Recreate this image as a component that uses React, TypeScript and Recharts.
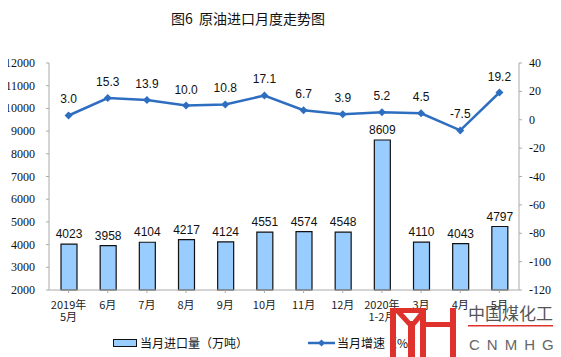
import { Bar, ComposedChart, LabelList, Line, XAxis, YAxis } from "recharts";

const months = ["2019年\n5月", "6月", "7月", "8月", "9月", "10月", "11月", "12月", "2020年\n1-2月", "3月", "4月", "5月"];
const imports = [4023, 3958, 4104, 4217, 4124, 4551, 4574, 4548, 8609, 4110, 4043, 4797];
const growth = [3.0, 15.3, 13.9, 10.0, 10.8, 17.1, 6.7, 3.9, 5.2, 4.5, -7.5, 19.2];
const leftTicks = [2000, 3000, 4000, 5000, 6000, 7000, 8000, 9000, 10000, 11000, 12000];
const rightTicks = [-120, -100, -80, -60, -40, -20, 0, 20, 40];

const data = months.map((m, i) => ({ month: m, imports: imports[i], growth: growth[i] }));

const LINE = "#2e6ec0";
const SERIF = "Liberation Serif, serif";
const SANS = "Liberation Sans, Arial, sans-serif";
const CJK = "Noto Sans CJK SC, sans-serif";

function MonthTick({ x, y, payload }: any) {
  const lines = String(payload.value).split("\n");
  return (
    <text x={x} y={y + 14} textAnchor="middle" fontSize={11} fontFamily={CJK} fill="#222">
      {lines.map((l, i) => (
        <tspan key={i} x={x} dy={i === 0 ? 0 : 12}>
          {l}
        </tspan>
      ))}
    </text>
  );
}

function NumTick({ x, y, payload, anchor }: any) {
  return (
    <text x={x} y={y + 4} textAnchor={anchor} fontSize={12} fontFamily={SERIF} fill="#111">
      {payload.value}
    </text>
  );
}

function Diamond({ cx, cy }: any) {
  if (cx == null || cy == null) return null;
  return <path d={`M${cx},${cy - 4}L${cx + 4},${cy}L${cx},${cy + 4}L${cx - 4},${cy}Z`} fill={LINE} />;
}

export default function App() {
  return (
    <div style={{ position: "relative", width: 561, height: 357, margin: "-8px 0 0 -8px", background: "#fff" }}>
      <div style={{ position: "absolute", left: 0, width: 496, top: 8, textAlign: "center", fontFamily: CJK, fontSize: 14, color: "#111" }}>
        图6&nbsp;&nbsp;原油进口月度走势图
      </div>
      <ComposedChart width={561} height={357} data={data} margin={{ top: 63, right: 4, bottom: 37, left: 4 }}>
        <XAxis
          dataKey="month"
          height={30}
          interval={0}
          tick={<MonthTick />}
          tickLine={{ stroke: "#aaa" }}
          tickSize={3}
          axisLine={{ stroke: "#aaa" }}
        />
        <YAxis
          yAxisId="left"
          width={45}
          domain={[2000, 12000]}
          ticks={leftTicks}
          interval={0}
          tickSize={3}
          tickMargin={11}
          axisLine={{ stroke: "#aaa" }}
          tickLine={{ stroke: "#aaa" }}
          tick={<NumTick anchor="end" />}
        />
        <YAxis
          yAxisId="right"
          orientation="right"
          width={38}
          domain={[-120, 40]}
          ticks={rightTicks}
          interval={0}
          tickSize={3}
          tickMargin={7}
          axisLine={{ stroke: "#aaa" }}
          tickLine={{ stroke: "#aaa" }}
          tick={<NumTick anchor="start" />}
        />
        <Bar yAxisId="left" dataKey="imports" barSize={16} fill="#99ccff" stroke="#111" strokeWidth={1.2} isAnimationActive={false}>
          <LabelList dataKey="imports" position="top" offset={6} style={{ fontSize: 12, fontFamily: SANS, fill: "#111" }} />
        </Bar>
        <Line
          yAxisId="right"
          dataKey="growth"
          stroke={LINE}
          strokeWidth={2.5}
          dot={<Diamond />}
          activeDot={false}
          isAnimationActive={false}
        >
          <LabelList
            dataKey="growth"
            position="top"
            offset={12}
            formatter={(v: any) => Number(v).toFixed(1)}
            style={{ fontSize: 12, fontFamily: SANS, fill: "#111" }}
          />
        </Line>
      </ComposedChart>
      <div style={{ position: "absolute", left: 113, top: 334, display: "flex", alignItems: "center", fontFamily: CJK, fontSize: 12, color: "#111", whiteSpace: "nowrap" }}>
        <span style={{ display: "inline-block", width: 22, height: 6, background: "#99ccff", border: "1.5px solid #111", marginRight: 3 }} />
        当月进口量（万吨）
      </div>
      <div style={{ position: "absolute", left: 308, top: 334, display: "flex", alignItems: "center", fontFamily: CJK, fontSize: 12, color: "#111", whiteSpace: "nowrap" }}>
        <svg width={27} height={10} style={{ marginRight: 2 }}>
          <line x1={0} y1={5} x2={27} y2={5} stroke={LINE} strokeWidth={2.5} />
          <path d="M13.5,1.5L17,5L13.5,8.5L10,5Z" fill={LINE} />
        </svg>
        当月增速（%）
      </div>
      <svg style={{ position: "absolute", left: 0, top: 0 }} width={561} height={357}>
        <g fill="#e0322c">
          <rect x={390} y={308} width={6} height={49} />
          <rect x={390} y={308} width={36} height={5} />
          <polygon points="396,313 403,313 412,323 409,327" />
          <polygon points="426,313 419,313 411,323 414,327" />
          <rect x={408} y={321} width={7} height={36} />
          <rect x={420} y={308} width={6} height={49} />
          <rect x={426} y={322} width={24} height={5} />
          <rect x={450} y={308} width={6} height={49} />
          <rect x={468} y={325} width={88} height={1.5} />
        </g>
      </svg>
      <div style={{ position: "absolute", left: 468, top: 303, fontFamily: CJK, fontSize: 17, lineHeight: "20px", color: "#555", whiteSpace: "nowrap" }}>
        中国煤化工
      </div>
      <div style={{ position: "absolute", left: 469, top: 336, fontFamily: SANS, fontSize: 15, lineHeight: "18px", color: "#666", letterSpacing: 7, whiteSpace: "nowrap" }}>
        CNMHG
      </div>
    </div>
  );
}
